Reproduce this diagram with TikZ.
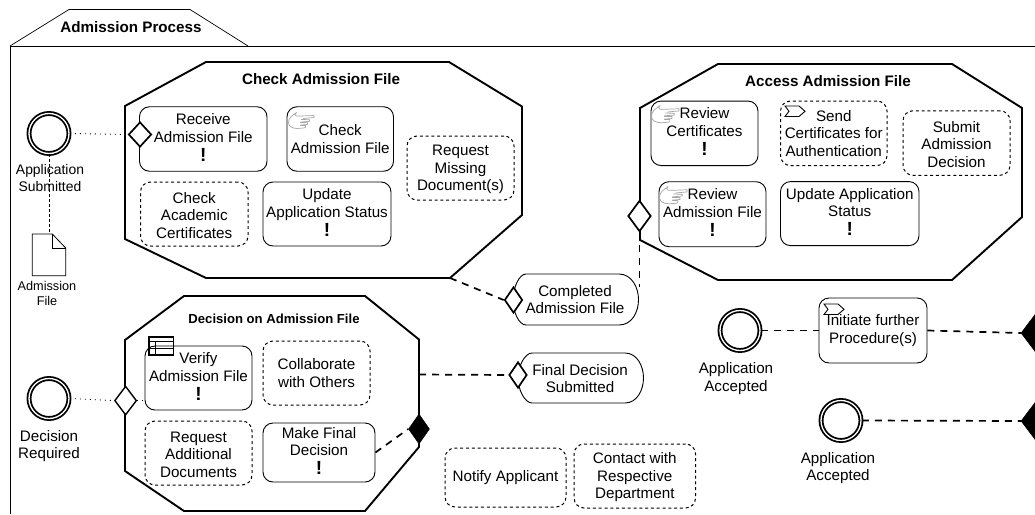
\documentclass[tikz,border=0pt]{standalone}
\usepackage{fontspec}
\setmainfont{Liberation Sans}
\usetikzlibrary{shapes.geometric}
\newcommand{\bangmark}{\rule[-3.5pt]{0pt}{1pt}{\fontsize{19}{17.5}\selectfont\bfseries !}}
\newcommand{\topfix}{\rule{0pt}{14pt}}
\tikzset{
  x=1pt,y=-1pt,
  base/.style={font=\fontsize{15.2}{17.5}\selectfont,align=center,inner sep=0pt},
  task/.style={base,draw=black,line width=0.9pt,rounded corners=10pt,fill=white},
  opttask/.style={task,line width=1pt,dash pattern=on 3pt off 2.8pt},
  caption/.style={base},
  smallcap/.style={base,font=\fontsize{13.9}{16.5}\selectfont},
  tinycap/.style={base,font=\fontsize{12.7}{15}\selectfont},
  title/.style={base,font=\fontsize{15.2}{17.5}\selectfont\bfseries},
  octa/.style={draw=black,line width=1.9pt,fill=white,line join=miter},
  gate/.style={shape=diamond,draw=black,line width=1.7pt,fill=white,inner sep=0pt},
  blackgate/.style={shape=diamond,draw=black,line width=0.5pt,fill=black,inner sep=0pt},
  ev/.style={shape=circle,draw=black,double=white,double distance=1.3pt,line width=1.8pt,fill=white,inner sep=0pt,minimum size=40pt},
  flow/.style={draw=black,line width=1.7pt,dash pattern=on 7pt off 6pt},
  assoc/.style={draw=black,line width=0.9pt,dash pattern=on 1pt off 4pt},
  docflow/.style={draw=black,line width=0.8pt,dash pattern=on 3pt off 2pt},
  pics/handicon/.style={code={
    \draw[gray!70,line width=0.7pt,line join=round,line cap=round]
      (8,0) .. controls (6,1.5) and (6,3) .. (8,3.5) -- (13,3.5) -- (25.5,3) -- (25.5,5) -- (15,6)
      (8,0) .. controls (4,3) and (0,5) .. (0,10) .. controls (0,14) and (4,16) .. (9,16) -- (15,15.5)
      (13,7) -- (21,7.2) -- (21,8.8) -- (12,9.6)
      (12,10.2) -- (19,10.2) -- (19,12) -- (12,12.6)
      (12,13) -- (17,13) -- (17,15) -- (15,15.5);
  }},
  pics/sendicon/.style={code={
    \draw[black,line width=0.9pt,line join=miter]
      (0,0) -- (14,0) -- (20,5.3) -- (14,10.5) -- (0,10.5) -- (4,5.3) -- cycle;
  }},
}
\begin{document}
\begin{tikzpicture}
\useasboundingbox (0,0) rectangle (1035,514);
% pool
\coordinate (poolTR) at (1035,46);
\coordinate (poolTL) at (10,46);
\coordinate (poolBL) at (10,514);
\draw[line width=0.9pt] (poolTR) -- (poolTL) -- (poolBL);
\draw[line width=0.7pt,line join=miter] (poolTL) -- (69,9.5) -- (190,9.5) -- (248,46);
\node[title] (poolTitle) at (131,27) {Admission Process};
% octagons
\draw[octa] (125,106) -- (206,62) -- (449,62) -- (522,106.5) -- (522,215) -- (450,278) -- (206,278) -- (125,239) -- cycle;
\coordinate (octABR) at (450,278);
\draw[octa] (640,108) -- (718,64) -- (952,64) -- (1022,108) -- (1022,217) -- (952,280) -- (718,280) -- (640,240) -- cycle;
\draw[octa] (125,340) -- (184,296) -- (365,296) -- (419,339.5) -- (419,447) -- (365,511) -- (184,511) -- (125,471) -- cycle;
\coordinate (octCR) at (419,374.5);
\node[title] (tCheck) at (321,79) {Check Admission File};
\node[title] (tAccess) at (828,81) {Access Admission File};
\node[title,font=\fontsize{13.1}{15}\selectfont\bfseries] (tDecision) at (274,319) {Decision on Admission File};
% check tasks
\node[task,minimum width=127.5pt,minimum height=64.5pt] (receive) at (203.25,139) {Receive\\Admission File\\[1.5pt]\bangmark};
\node[task,minimum width=106.5pt,minimum height=64.5pt] (checkF) at (340.25,139) {Check\\Admission File};
\node[opttask,minimum width=107pt,minimum height=64pt] (reqMiss) at (460.5,168) {\topfix Request\\Missing\\Document(s)};
\node[opttask,minimum width=107.5pt,minimum height=64pt] (checkAc) at (194.25,214) {\topfix Check\\Academic\\Certificates};
\node[task,minimum width=128pt,minimum height=64pt] (updA) at (327,214) {Update\\Application Status\\[1.5pt]\bangmark};
% access tasks
\node[task,minimum width=107pt,minimum height=64.5pt] (revCert) at (704.5,133.3) {Review\\Certificates\\[1.5pt]\bangmark};
\node[opttask,minimum width=106.5pt,minimum height=64.5pt] (sendCert) at (833.75,133.3) {Send\\Certificates for\\Authentication};
\node[opttask,minimum width=107pt,minimum height=64.5pt] (submit) at (956.5,143) {\topfix Submit\\Admission\\Decision};
\node[task,minimum width=107pt,minimum height=65pt] (revAdm) at (712.5,214.2) {Review\\Admission File\\[1.5pt]\bangmark};
\node[task,minimum width=138.5pt,minimum height=64pt] (updB) at (849.75,213.6) {Update Application\\Status\\[1.5pt]\bangmark};
% decision tasks
\node[task,minimum width=107pt,minimum height=64pt] (verify) at (198.5,378) {Verify\\Admission File\\[1.5pt]\bangmark};
\node[opttask,minimum width=107pt,minimum height=64pt] (collab) at (316.5,373) {Collaborate\\with Others};
\node[opttask,minimum width=107pt,minimum height=64pt] (reqAdd) at (198.5,453) {\topfix Request\\Additional\\Documents};
\node[task,minimum width=112pt,minimum height=59pt] (final) at (319,452.5) {Make Final\\Decision\\[1.5pt]\bangmark};
% free tasks
\node[opttask,minimum width=121pt,minimum height=59pt] (notify) at (505.5,477.5) {Notify Applicant};
\node[opttask,minimum width=121.5pt,minimum height=64pt] (contact) at (634.8,476) {\topfix Contact with\\Respective\\Department};
\node[task,minimum width=108pt,minimum height=65pt] (initiate) at (873,330.5) {Initiate further\\Procedure(s)};
% task icons
\pic at (288.5,112.5) {handicon};
\pic[scale=1.08] at (651.5,105.5) {handicon};
\pic[scale=1.08] at (659.5,186.5) {handicon};
\pic at (785,106) {sendicon};
\pic at (824,304) {sendicon};
\draw[line width=1.3pt] (149,337) rectangle (173.5,355);
\draw[line width=1pt] (149,341.3) -- (173.5,341.3) (149,348) -- (173.5,348) (155.5,341.3) -- (155.5,355);
% event sub-process shapes
\draw[line width=0.9pt,fill=white] (526,274) -- (619,274) .. controls (632,274) and (638.5,288) .. (638.5,299.5) .. controls (638.5,312) and (632,325) .. (619,325) -- (526,325) .. controls (519,325) and (513,312) .. (513,300) .. controls (513,288) and (519,274) .. (526,274) -- cycle;
\node[base] (completed) at (575,299.5) {Completed\\Admission File};
\draw[line width=0.9pt,fill=white] (532,353) -- (625,353) .. controls (637,353) and (643.5,366) .. (643.5,378) .. controls (643.5,390) and (637,403) .. (625,403) -- (532,403) .. controls (525,403) and (518,390) .. (518,378) .. controls (518,366) and (525,353) .. (532,353) -- cycle;
\node[base] (finalSub) at (580,378.5) {Final Decision\\Submitted};
\coordinate (completedTop) at (639.5,287);
% events
\node[ev] (evSub) at (49,133.5) {};
\node[ev] (evDec) at (49,398.5) {};
\node[ev] (evAcc) at (740,330.5) {};
\node[ev] (evAcc2) at (841,420.5) {};
\node[smallcap] (lSub) at (50,178) {Application\\Submitted};
\node[caption] (lDec) at (49,446) {Decision\\Required};
\node[caption] (lAcc) at (736,378.5) {Application\\Accepted};
\node[caption] (lAcc2) at (838,468) {Application\\Accepted};
% data object
\draw[line width=0.8pt,fill=white,line join=miter] (32.3,234) -- (52.3,234) -- (65.7,248) -- (65.7,275.7) -- (32.3,275.7) -- cycle;
\draw[line width=0.8pt] (52.3,234) -- (52.3,248) -- (65.7,248);
\coordinate (docTop) at (49,234);
\node[tinycap] (lDoc) at (47,293.5) {Admission\\File};
% gateways
\node[gate,minimum width=23pt,minimum height=25pt] (gRec) at (140,134.5) {};
\node[gate,line width=1.4pt,minimum width=22pt,minimum height=29pt] (gDec) at (125.6,400.6) {};
\node[gate,minimum width=23pt,minimum height=31pt] (gAcc) at (639.5,216) {};
\node[gate,minimum width=18pt,minimum height=26pt] (gComp) at (513.5,300) {};
\node[gate,minimum width=18pt,minimum height=26pt] (gFinal) at (518,375) {};
\node[blackgate,minimum width=21pt,minimum height=30pt] (gEnd) at (419,429) {};
\begin{scope}
\clip (0,0) rectangle (1035,514);
\node[blackgate,minimum width=28pt,minimum height=37pt] (gR1) at (1035,333) {};
\node[blackgate,minimum width=28pt,minimum height=37pt] (gR2) at (1035,421) {};
\end{scope}
% connectors
\draw[assoc] (evSub.east) -- (gRec.west);
\draw[docflow] (evSub.south) -- (docTop);
\draw[assoc] (evDec.east) -- (gDec.west);
\draw[assoc] (gDec.east) -- (verify.west |- gDec.east);
\draw[flow] (final.east) -- (gEnd.west);
\draw[flow] (octCR) -- (gFinal.west);
\draw[flow] (octABR) -- (gComp.west);
\draw[flow] (gAcc.south) -- (completedTop);
\draw[flow] (evAcc.east) -- (initiate.west);
\draw[flow] (initiate.east) -- (gR1.west);
\draw[flow] (evAcc2.east) -- (gR2.west);
\end{tikzpicture}
\end{document}
